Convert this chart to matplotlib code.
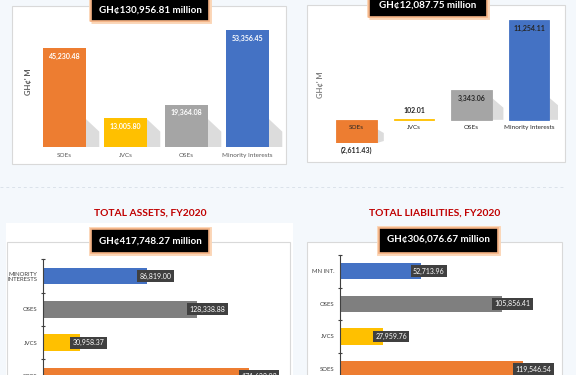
import matplotlib.pyplot as plt
from matplotlib.patches import Rectangle, Polygon

# data
cats_top = ["SOEs", "JVCs", "OSEs", "Minority Interests"]
top_left_vals = [45230.48, 13005.80, 19364.08, 53356.45]
top_right_vals = [-2611.43, 102.01, 3343.06, 11254.11]

assets_cats = ["SOES", "JVCS", "OSES", "MINORITY\nINTERESTS"]
assets_vals = [171632.02, 30958.37, 128338.88, 86819.00]
liab_cats = ["SOES", "JVCS", "OSES", "MN INT."]
liab_vals = [119546.54, 27959.76, 105856.41, 52713.96]

totals = ["GH\u00a2130,956.81 million", "GH\u00a212,087.75 million",
          "GH\u00a2417,748.27 million", "GH\u00a2306,076.67 million"]
titles = ["TOTAL ASSETS, FY2020", "TOTAL LIABILITIES, FY2020"]

colors = ["#ED7D31", "#FFC000", "#A5A5A5", "#4472C4"]
colors_h = ["#ED7D31", "#FFC000", "#7F7F7F", "#4472C4"]

plt.rcParams['font.family'] = ['Lato', 'DejaVu Sans']

W, H = 576, 375
fig = plt.figure(figsize=(W / 100, H / 100), dpi=100)
fig.patch.set_facecolor("#f4f8fc")


def rect(x0, y0, x1, y1):
    # pixel box (top-left origin) -> figure fraction [l, b, w, h]
    return [x0 / W, 1 - y1 / H, (x1 - x0) / W, (y1 - y0) / H]


def panel(x0, y0, x1, y1, ec="#d9d9d9", fc="white"):
    l, b, w, h = rect(x0, y0, x1, y1)
    fig.patches.append(Rectangle((l, b), w, h, transform=fig.transFigure,
                                 fc=fc, ec=ec, lw=0.8, zorder=-5))


def total_box(x0, y0, x1, y1, text, ty):
    l, b, w, h = rect(x0, y0, x1, y1)
    fig.patches.append(Rectangle((l, b), w, h, transform=fig.transFigure,
                                 fc="none", ec="#fbd5b5", lw=3.5, zorder=5))
    fig.patches.append(Rectangle((l, b), w, h, transform=fig.transFigure,
                                 fc="black", ec="#f4b183", lw=1.2, zorder=6))
    fig.text((x0 + x1) / 2 / W, 1 - ty / H, text, color="white", fontsize=7.1,
             fontweight="bold", ha="center", va="center", zorder=7)


# background panels
panel(12, 6, 286, 164)
panel(307, 5, 565, 162)
panel(6, 223, 293, 380, ec="none")
panel(7, 242, 290, 380)
panel(307, 242, 562, 380)

# dashed separator
fig.lines.append(plt.Line2D([0, 563 / W], [1 - 187 / H] * 2, transform=fig.transFigure,
                            color="#dbe2ea", lw=0.7, ls=(0, (3, 3)), zorder=-4))

# ---- top-left vertical bars
ax1 = fig.add_axes(rect(34, 30, 278, 147))
ax1.set_xlim(-0.5, 3.5)
ax1.set_ylim(0, max(top_left_vals))
sc1 = max(top_left_vals) / 117.0  # data units per pixel
for i, v in enumerate(top_left_vals):
    xr = i + 0.35
    hs = min(v, 28 * sc1)
    ax1.add_patch(Polygon([(xr, 0), (xr + 0.22, 0), (xr + 0.22, hs * 0.55), (xr, hs)],
                          fc="#dcdcdc", ec="none", zorder=1, clip_on=False))
ax1.bar(range(4), top_left_vals, width=0.7, color=colors, zorder=2)
for i, v in enumerate(top_left_vals):
    ax1.annotate(f"{v:,.2f}", (i, v), xytext=(0, -6), textcoords="offset points",
                 ha="center", va="center", color="white", fontsize=5, fontweight="bold")
ax1.set_xticks(range(4), cats_top, fontsize=4.6, color="#595959")
ax1.tick_params(axis="x", length=0, pad=4.5)
ax1.set_yticks([])
for s in ax1.spines.values():
    s.set_visible(False)
ax1.patch.set_visible(False)
fig.text(28 / W, 1 - 82 / H, "GH\u00a2' M", rotation=90, fontsize=5.5, fontweight="bold",
         color="#595959", ha="center", va="center")
total_box(91, -5, 209, 21, totals[0], 10)

# ---- top-right vertical bars (with negative)
ax2 = fig.add_axes(rect(327.75, 20, 557.75, 143))
ax2.set_xlim(-0.5, 3.5)
ax2.set_ylim(min(top_right_vals), max(top_right_vals))
sc2 = (max(top_right_vals) - min(top_right_vals)) / 123.0
for i, v in enumerate(top_right_vals):
    xr = i + 0.355
    if v > 1000:
        hs = min(v, 22 * sc2)
        ax2.add_patch(Polygon([(xr, 0), (xr + 0.2, 0), (xr + 0.2, hs * 0.55), (xr, hs)],
                              fc="#dcdcdc", ec="none", zorder=1))
    elif v < 0:
        ax2.add_patch(Polygon([(xr, v), (xr + 0.12, v + 2 * sc2), (xr + 0.12, v + 10 * sc2), (xr, v + 14 * sc2)],
                              fc="#dcdcdc", ec="none", zorder=1))
ax2.bar(range(4), top_right_vals, width=0.71, color=colors, edgecolor=colors, lw=0.6, zorder=2)
for i, v in enumerate(top_right_vals):
    txt = f"({abs(v):,.2f})" if v < 0 else f"{v:,.2f}"
    if v < 0:
        off = -5
    elif v < 1000:
        off = 6
    else:
        off = -6
    ax2.annotate(txt, (i, v), xytext=(0, off), textcoords="offset points",
                 ha="center", va="center", color="#262626", fontsize=5, fontweight="bold")
    ax2.annotate(cats_top[i], (i, 0), xytext=(0, -5.3), textcoords="offset points",
                 ha="center", va="center", color="#262626", fontsize=4.6, zorder=3)
ax2.set_xticks([])
ax2.set_yticks([])
for s in ax2.spines.values():
    s.set_visible(False)
ax2.patch.set_visible(False)
fig.text(321 / W, 1 - 85 / H, "GH\u00a2' M", rotation=90, fontsize=5.5, fontweight="bold",
         color="#7f7f7f", ha="center", va="center")
total_box(369, -5, 487, 17, totals[1], 5)


# ---- bottom horizontal bars
def hbars(ax, cats, vals, px_per_unit, xmax_px):
    ax.barh(range(4), vals, height=0.5, color=colors_h, zorder=2)
    for i, v in enumerate(vals):
        ax.annotate(f"{v:,.2f}", (v, i), xytext=(-5.5, 0), textcoords="offset points",
                    ha="left", va="center", color="white", fontsize=5.0, zorder=4,
                    bbox=dict(boxstyle="square,pad=0.35", fc="#404040", ec="none"))
    ax.set_xlim(0, xmax_px / px_per_unit)
    ax.set_yticks(range(4), cats, fontsize=4.3, color="#404040", linespacing=1.0)
    ax.set_yticks([0.5, 1.5, 2.5, 3.5], minor=True)
    ax.tick_params(axis="y", which="major", length=0, pad=4)
    ax.tick_params(axis="y", which="minor", length=2.5, width=0.8, color="#404040", direction="inout")
    ax.set_xticks([])
    for k in ["top", "right", "bottom"]:
        ax.spines[k].set_visible(False)
    ax.spines["left"].set_color("#404040")
    ax.spines["left"].set_linewidth(0.8)
    ax.patch.set_visible(False)


ax3 = fig.add_axes(rect(43, 259, 290, 400))
ax3.set_ylim(-(400 - 376) / 33.3, (376 - 259) / 33.3)
hbars(ax3, assets_cats, assets_vals, 0.00120, 247)
fig.text(150 / W, 1 - 213 / H, titles[0], color="#C00000", fontsize=7.4,
         fontweight="bold", ha="center", va="center")
total_box(91, 229, 209, 253, totals[2], 241)

ax4 = fig.add_axes(rect(340, 255, 562, 400))
ax4.set_ylim(-(400 - 369) / 32.7, (369 - 255) / 32.7)
hbars(ax4, liab_cats, liab_vals, 0.00153, 222)
fig.text(435 / W, 1 - 213 / H, titles[1], color="#C00000", fontsize=7.4,
         fontweight="bold", ha="center", va="center")
total_box(379, 228, 498, 253, totals[3], 239)

fig.savefig("out.png", dpi=100, facecolor=fig.get_facecolor())
